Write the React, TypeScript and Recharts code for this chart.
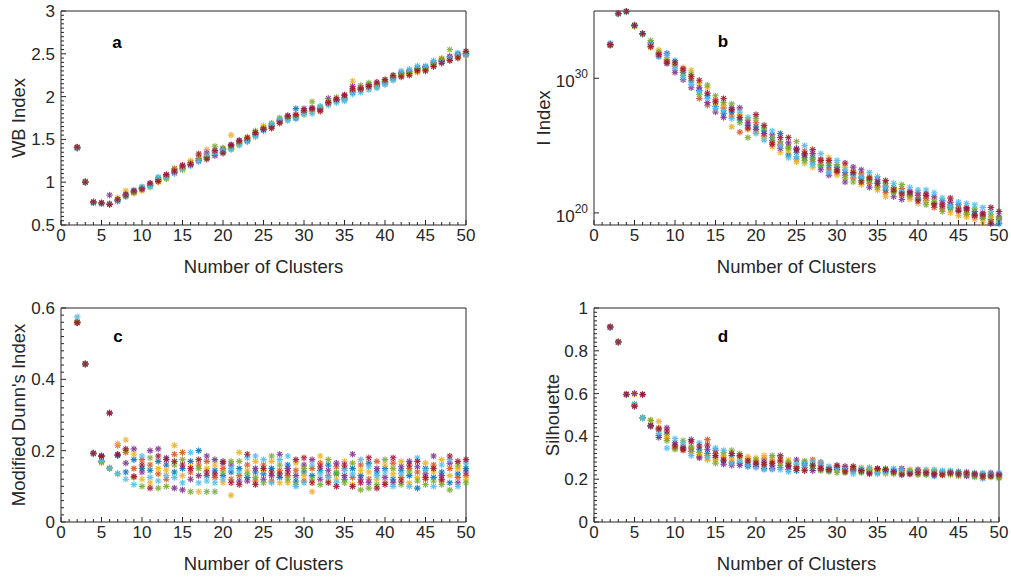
import { Scatter, ScatterChart, XAxis, YAxis } from 'recharts';

const clusters = [
  2, 3, 4, 5, 6, 7, 8, 9, 10, 11, 12, 13, 14, 15, 16, 17, 18, 19, 20, 21, 22, 23, 24, 25, 26,
  27, 28, 29, 30, 31, 32, 33, 34, 35, 36, 37, 38, 39, 40, 41, 42, 43, 44, 45, 46, 47, 48, 49, 50,
];

// MATLAB default colour order: blue, orange, yellow, purple, green, cyan, red
const runColors = ['#0072BD', '#D95319', '#EDB120', '#7E2F8E', '#77AC30', '#4DBEEE', '#A2142F'];

// (a) WB index
const wbBlue = [
  1.40, 1.00, 0.76, 0.75, 0.75, 0.78, 0.84, 0.89, 0.93, 0.96,
  1.05, 1.06, 1.12, 1.16, 1.21, 1.26, 1.29, 1.33, 1.35, 1.40,
  1.45, 1.49, 1.55, 1.62, 1.65, 1.71, 1.74, 1.86, 1.81, 1.83,
  1.85, 1.92, 1.95, 1.97, 2.05, 2.08, 2.11, 2.12, 2.16, 2.21,
  2.25, 2.27, 2.33, 2.32, 2.37, 2.41, 2.44, 2.50, 2.49,
];
const wbOrange = [
  1.41, 1.01, 0.77, 0.76, 0.74, 0.79, 0.85, 0.88, 0.92, 0.97,
  1.02, 1.07, 1.16, 1.18, 1.23, 1.28, 1.30, 1.36, 1.38, 1.42,
  1.47, 1.51, 1.57, 1.64, 1.67, 1.73, 1.76, 1.78, 1.83, 1.85,
  1.87, 1.94, 1.97, 1.99, 2.07, 2.10, 2.13, 2.14, 2.18, 2.23,
  2.27, 2.29, 2.31, 2.34, 2.39, 2.43, 2.46, 2.48, 2.51,
];
const wbYellow = [
  1.40, 1.00, 0.76, 0.75, 0.75, 0.82, 0.90, 0.87, 0.90, 0.94,
  1.00, 1.05, 1.14, 1.14, 1.25, 1.31, 1.38, 1.35, 1.36, 1.55,
  1.44, 1.53, 1.54, 1.66, 1.64, 1.70, 1.73, 1.76, 1.80, 1.82,
  1.84, 1.91, 1.94, 1.96, 2.18, 2.07, 2.10, 2.11, 2.15, 2.20,
  2.24, 2.26, 2.28, 2.31, 2.36, 2.45, 2.43, 2.46, 2.48,
];
const wbPurple = [
  1.40, 1.00, 0.76, 0.75, 0.85, 0.79, 0.86, 0.89, 0.93, 0.98,
  1.03, 1.08, 1.11, 1.20, 1.20, 1.25, 1.34, 1.31, 1.39, 1.44,
  1.49, 1.48, 1.56, 1.61, 1.66, 1.72, 1.78, 1.75, 1.86, 1.87,
  1.86, 1.98, 1.96, 2.01, 2.12, 2.11, 2.14, 2.15, 2.17, 2.22,
  2.28, 2.30, 2.32, 2.35, 2.40, 2.42, 2.47, 2.49, 2.50,
];
const wbGreen = [
  1.40, 1.01, 0.76, 0.75, 0.74, 0.78, 0.83, 0.88, 0.94, 0.96,
  1.04, 1.04, 1.15, 1.17, 1.22, 1.27, 1.28, 1.42, 1.40, 1.39,
  1.46, 1.50, 1.60, 1.63, 1.69, 1.75, 1.75, 1.77, 1.82, 1.94,
  1.88, 1.95, 1.99, 1.98, 2.06, 2.13, 2.16, 2.13, 2.19, 2.24,
  2.26, 2.28, 2.34, 2.33, 2.38, 2.44, 2.55, 2.47, 2.52,
];
const wbCyan = [
  1.40, 1.00, 0.76, 0.75, 0.75, 0.79, 0.84, 0.91, 0.95, 0.95,
  1.06, 1.06, 1.10, 1.15, 1.19, 1.24, 1.31, 1.34, 1.37, 1.38,
  1.43, 1.47, 1.53, 1.60, 1.68, 1.74, 1.72, 1.74, 1.79, 1.80,
  1.89, 1.90, 1.93, 1.95, 2.03, 2.05, 2.08, 2.10, 2.14, 2.19,
  2.30, 2.32, 2.36, 2.36, 2.42, 2.40, 2.45, 2.51, 2.49,
];
const wbRed = [
  1.41, 1.00, 0.77, 0.76, 0.74, 0.80, 0.85, 0.90, 0.92, 0.99,
  1.01, 1.09, 1.13, 1.19, 1.21, 1.33, 1.27, 1.37, 1.34, 1.43,
  1.48, 1.52, 1.58, 1.62, 1.63, 1.69, 1.77, 1.79, 1.84, 1.86,
  1.83, 1.93, 1.97, 2.02, 2.09, 2.09, 2.12, 2.17, 2.20, 2.25,
  2.23, 2.25, 2.30, 2.30, 2.35, 2.39, 2.42, 2.45, 2.53,
];

// (b) I index, stored as powers of ten
const iBlue = [
  32.45, 34.80, 34.95, 33.90, 33.30, 32.55, 31.65, 31.85, 31.30, 30.45,
  29.80, 29.10, 28.70, 27.90, 27.40, 27.50, 26.90, 26.50, 26.40, 26.10,
  25.40, 25.90, 24.30, 24.50, 24.30, 24.10, 23.50, 23.50, 23.40, 23.00,
  22.90, 22.60, 22.50, 22.30, 21.70, 21.90, 21.50, 21.40, 21.10, 20.90,
  20.70, 20.50, 20.40, 20.10, 20.20, 19.90, 19.60, 19.50, 19.20,
];
const iOrange = [
  32.50, 34.82, 34.97, 33.95, 33.32, 32.40, 31.90, 31.40, 30.90, 30.60,
  30.00, 28.50, 28.00, 28.40, 27.80, 27.20, 26.00, 26.90, 26.70, 25.70,
  25.20, 25.10, 24.90, 24.00, 24.60, 23.80, 24.00, 23.20, 23.00, 22.80,
  22.60, 22.90, 22.20, 22.00, 21.50, 21.60, 21.80, 21.20, 21.30, 21.10,
  20.40, 20.30, 20.60, 20.30, 19.90, 19.70, 19.80, 19.30, 19.50,
];
const iYellow = [
  32.48, 34.78, 34.94, 33.85, 33.28, 32.30, 32.10, 31.55, 30.60, 30.80,
  30.60, 29.60, 29.30, 28.10, 28.00, 26.40, 27.30, 26.20, 26.00, 25.50,
  24.90, 24.50, 24.60, 23.80, 23.70, 23.40, 23.80, 24.10, 22.80, 23.40,
  23.10, 22.10, 22.70, 21.70, 21.20, 21.80, 21.30, 21.00, 20.70, 20.80,
  21.00, 20.70, 20.00, 19.80, 19.70, 19.50, 19.30, 19.70, 19.40,
];
const iPurple = [
  32.52, 34.80, 34.96, 33.92, 33.30, 32.65, 31.80, 31.10, 30.45, 29.90,
  29.30, 29.30, 28.20, 27.50, 27.10, 27.80, 27.80, 26.70, 26.20, 25.90,
  25.80, 24.80, 25.20, 24.80, 24.10, 24.40, 23.20, 22.80, 23.20, 22.30,
  23.40, 23.20, 21.90, 22.50, 22.00, 21.20, 21.00, 21.60, 21.50, 21.30,
  21.20, 20.90, 20.80, 20.60, 20.40, 20.10, 20.00, 19.20, 19.70,
];
const iGreen = [
  32.47, 34.81, 34.95, 33.88, 33.31, 32.80, 31.95, 31.30, 31.05, 30.20,
  30.30, 28.80, 29.50, 28.70, 28.20, 28.10, 26.70, 25.60, 27.00, 26.30,
  25.60, 25.30, 24.80, 25.30, 23.90, 24.00, 23.60, 23.70, 23.60, 22.60,
  22.30, 22.40, 22.40, 21.90, 22.20, 21.50, 22.10, 21.30, 21.00, 20.60,
  20.80, 20.10, 20.30, 20.40, 20.00, 20.30, 19.70, 19.90, 19.60,
];
const iCyan = [
  32.62, 34.79, 34.93, 33.97, 33.29, 32.50, 31.60, 31.70, 30.75, 30.05,
  29.55, 29.00, 28.50, 27.75, 27.60, 27.00, 27.50, 27.10, 25.90, 25.40,
  26.10, 25.00, 24.10, 24.20, 25.00, 23.60, 24.40, 23.00, 23.90, 23.20,
  22.80, 22.70, 23.00, 22.70, 21.90, 22.20, 21.60, 21.90, 21.70, 21.70,
  21.50, 21.10, 20.50, 20.80, 20.70, 20.60, 20.40, 20.10, 19.30,
];
const iRed = [
  32.50, 34.83, 34.98, 33.93, 33.33, 32.35, 31.75, 31.20, 31.15, 30.70,
  30.15, 29.85, 28.90, 28.25, 28.50, 27.65, 27.10, 26.30, 27.30, 26.50,
  25.10, 25.60, 25.60, 24.70, 24.40, 24.70, 23.90, 23.90, 23.10, 23.70,
  23.00, 22.30, 22.60, 22.20, 22.40, 21.70, 21.40, 21.50, 20.90, 21.40,
  20.60, 20.60, 21.10, 20.20, 20.30, 19.80, 19.90, 20.40, 20.10,
];

// (c) modified Dunn's index
const dunnBlue = [
  0.560, 0.443, 0.192, 0.170, 0.150, 0.186, 0.140, 0.175, 0.150, 0.145,
  0.170, 0.160, 0.140, 0.150, 0.170, 0.200, 0.130, 0.145, 0.130, 0.140,
  0.150, 0.125, 0.140, 0.135, 0.150, 0.125, 0.160, 0.115, 0.140, 0.130,
  0.145, 0.160, 0.135, 0.120, 0.150, 0.130, 0.165, 0.140, 0.150, 0.120,
  0.145, 0.130, 0.095, 0.150, 0.125, 0.140, 0.110, 0.135, 0.150,
];
const dunnOrange = [
  0.558, 0.445, 0.193, 0.185, 0.152, 0.215, 0.195, 0.150, 0.175, 0.160,
  0.135, 0.120, 0.190, 0.195, 0.140, 0.160, 0.170, 0.125, 0.150, 0.120,
  0.130, 0.160, 0.115, 0.160, 0.115, 0.145, 0.130, 0.145, 0.115, 0.150,
  0.165, 0.130, 0.155, 0.150, 0.125, 0.160, 0.120, 0.170, 0.110, 0.165,
  0.125, 0.150, 0.140, 0.120, 0.160, 0.115, 0.150, 0.125, 0.130,
];
const dunnYellow = [
  0.562, 0.444, 0.191, 0.166, 0.151, 0.220, 0.230, 0.190, 0.120, 0.110,
  0.150, 0.145, 0.215, 0.130, 0.155, 0.085, 0.150, 0.160, 0.110, 0.075,
  0.195, 0.145, 0.170, 0.145, 0.170, 0.110, 0.110, 0.165, 0.130, 0.085,
  0.185, 0.115, 0.120, 0.170, 0.105, 0.145, 0.140, 0.120, 0.160, 0.135,
  0.170, 0.110, 0.125, 0.165, 0.140, 0.175, 0.130, 0.150, 0.120,
];
const dunnPurple = [
  0.560, 0.443, 0.192, 0.186, 0.305, 0.188, 0.165, 0.205, 0.140, 0.200,
  0.205, 0.180, 0.095, 0.090, 0.120, 0.130, 0.185, 0.175, 0.165, 0.160,
  0.115, 0.115, 0.150, 0.120, 0.130, 0.190, 0.150, 0.130, 0.160, 0.175,
  0.120, 0.145, 0.165, 0.130, 0.190, 0.120, 0.110, 0.150, 0.125, 0.110,
  0.155, 0.170, 0.155, 0.135, 0.185, 0.130, 0.165, 0.110, 0.140,
];
const dunnGreen = [
  0.561, 0.442, 0.192, 0.168, 0.150, 0.135, 0.200, 0.125, 0.100, 0.180,
  0.095, 0.100, 0.160, 0.175, 0.085, 0.150, 0.085, 0.085, 0.140, 0.170,
  0.170, 0.135, 0.125, 0.110, 0.185, 0.160, 0.120, 0.105, 0.150, 0.120,
  0.105, 0.175, 0.140, 0.110, 0.165, 0.090, 0.095, 0.105, 0.175, 0.150,
  0.105, 0.140, 0.115, 0.105, 0.115, 0.105, 0.090, 0.160, 0.110,
];
const dunnCyan = [
  0.575, 0.444, 0.191, 0.172, 0.151, 0.136, 0.120, 0.105, 0.185, 0.125,
  0.115, 0.130, 0.125, 0.110, 0.195, 0.110, 0.115, 0.110, 0.120, 0.150,
  0.140, 0.180, 0.185, 0.175, 0.110, 0.175, 0.185, 0.100, 0.110, 0.160,
  0.135, 0.125, 0.110, 0.145, 0.135, 0.175, 0.155, 0.130, 0.140, 0.100,
  0.135, 0.100, 0.180, 0.145, 0.100, 0.160, 0.175, 0.100, 0.165,
];
const dunnRed = [
  0.559, 0.443, 0.193, 0.184, 0.306, 0.190, 0.205, 0.128, 0.160, 0.095,
  0.185, 0.175, 0.170, 0.160, 0.150, 0.175, 0.140, 0.135, 0.170, 0.110,
  0.105, 0.190, 0.105, 0.150, 0.140, 0.135, 0.140, 0.175, 0.180, 0.110,
  0.155, 0.110, 0.100, 0.160, 0.100, 0.110, 0.180, 0.095, 0.105, 0.180,
  0.115, 0.160, 0.170, 0.125, 0.150, 0.120, 0.185, 0.170, 0.175,
];

// (d) silhouette
const silBlue = [
  0.910, 0.842, 0.596, 0.545, 0.486, 0.450, 0.405, 0.410, 0.360, 0.345,
  0.330, 0.340, 0.320, 0.300, 0.285, 0.310, 0.275, 0.260, 0.270, 0.250,
  0.265, 0.255, 0.245, 0.240, 0.255, 0.250, 0.245, 0.240, 0.245, 0.250,
  0.240, 0.235, 0.245, 0.230, 0.235, 0.240, 0.225, 0.235, 0.230, 0.225,
  0.215, 0.230, 0.225, 0.220, 0.225, 0.215, 0.205, 0.220, 0.210,
];
const silOrange = [
  0.912, 0.840, 0.597, 0.600, 0.488, 0.447, 0.440, 0.390, 0.345, 0.335,
  0.345, 0.305, 0.385, 0.320, 0.300, 0.280, 0.305, 0.295, 0.285, 0.295,
  0.285, 0.280, 0.275, 0.260, 0.265, 0.290, 0.280, 0.250, 0.260, 0.240,
  0.250, 0.245, 0.235, 0.250, 0.245, 0.230, 0.240, 0.225, 0.240, 0.235,
  0.230, 0.220, 0.235, 0.230, 0.220, 0.225, 0.220, 0.215, 0.220,
];
const silYellow = [
  0.909, 0.843, 0.595, 0.598, 0.485, 0.476, 0.470, 0.400, 0.350, 0.360,
  0.320, 0.315, 0.290, 0.290, 0.310, 0.295, 0.290, 0.305, 0.300, 0.310,
  0.300, 0.305, 0.290, 0.275, 0.245, 0.270, 0.255, 0.255, 0.240, 0.255,
  0.235, 0.255, 0.250, 0.240, 0.225, 0.245, 0.235, 0.245, 0.225, 0.240,
  0.235, 0.225, 0.220, 0.225, 0.230, 0.230, 0.215, 0.225, 0.215,
];
const silPurple = [
  0.911, 0.841, 0.596, 0.601, 0.597, 0.452, 0.395, 0.440, 0.370, 0.350,
  0.385, 0.300, 0.340, 0.335, 0.270, 0.265, 0.265, 0.270, 0.260, 0.280,
  0.250, 0.310, 0.260, 0.290, 0.275, 0.240, 0.265, 0.245, 0.255, 0.260,
  0.245, 0.240, 0.230, 0.245, 0.240, 0.235, 0.250, 0.230, 0.245, 0.230,
  0.225, 0.235, 0.230, 0.235, 0.215, 0.220, 0.225, 0.230, 0.225,
];
const silGreen = [
  0.910, 0.842, 0.594, 0.552, 0.487, 0.475, 0.430, 0.380, 0.340, 0.380,
  0.350, 0.325, 0.310, 0.275, 0.325, 0.335, 0.320, 0.280, 0.290, 0.265,
  0.310, 0.265, 0.280, 0.255, 0.285, 0.260, 0.240, 0.235, 0.230, 0.230,
  0.255, 0.230, 0.240, 0.235, 0.250, 0.225, 0.230, 0.240, 0.220, 0.220,
  0.240, 0.230, 0.225, 0.215, 0.225, 0.210, 0.220, 0.210, 0.205,
];
const silCyan = [
  0.908, 0.840, 0.596, 0.548, 0.486, 0.446, 0.415, 0.345, 0.390, 0.370,
  0.310, 0.370, 0.300, 0.345, 0.335, 0.275, 0.285, 0.265, 0.255, 0.245,
  0.245, 0.245, 0.235, 0.270, 0.270, 0.280, 0.275, 0.260, 0.250, 0.245,
  0.225, 0.250, 0.255, 0.225, 0.230, 0.250, 0.245, 0.235, 0.235, 0.245,
  0.245, 0.240, 0.240, 0.230, 0.235, 0.230, 0.230, 0.220, 0.230,
];
const silRed = [
  0.912, 0.841, 0.597, 0.540, 0.595, 0.449, 0.435, 0.425, 0.355, 0.340,
  0.375, 0.355, 0.360, 0.310, 0.290, 0.320, 0.310, 0.285, 0.275, 0.270,
  0.275, 0.290, 0.265, 0.250, 0.240, 0.265, 0.250, 0.245, 0.265, 0.235,
  0.260, 0.240, 0.225, 0.250, 0.245, 0.235, 0.220, 0.225, 0.230, 0.230,
  0.225, 0.220, 0.230, 0.225, 0.230, 0.225, 0.215, 0.215, 0.220,
];

// ticks
const xTicks = [
  0, 1, 2, 3, 4, 5, 6, 7, 8, 9, 10, 11, 12, 13, 14, 15, 16, 17, 18, 19, 20, 21, 22, 23, 24, 25,
  26, 27, 28, 29, 30, 31, 32, 33, 34, 35, 36, 37, 38, 39, 40, 41, 42, 43, 44, 45, 46, 47, 48, 49, 50,
];
const xMajors = [0, 5, 10, 15, 20, 25, 30, 35, 40, 45, 50];

const wbTicks = [
  0.5, 0.55, 0.6, 0.65, 0.7, 0.75, 0.8, 0.85, 0.9, 0.95, 1, 1.05, 1.1, 1.15, 1.2, 1.25, 1.3,
  1.35, 1.4, 1.45, 1.5, 1.55, 1.6, 1.65, 1.7, 1.75, 1.8, 1.85, 1.9, 1.95, 2, 2.05, 2.1, 2.15,
  2.2, 2.25, 2.3, 2.35, 2.4, 2.45, 2.5, 2.55, 2.6, 2.65, 2.7, 2.75, 2.8, 2.85, 2.9, 2.95, 3,
];
const wbMajors = [0.5, 1, 1.5, 2, 2.5, 3];

const iTicks = [20, 30];
const iMajors = [20, 30];

const dunnTicks = [
  0, 0.02, 0.04, 0.06, 0.08, 0.1, 0.12, 0.14, 0.16, 0.18, 0.2, 0.22, 0.24, 0.26, 0.28, 0.3,
  0.32, 0.34, 0.36, 0.38, 0.4, 0.42, 0.44, 0.46, 0.48, 0.5, 0.52, 0.54, 0.56, 0.58, 0.6,
];
const dunnMajors = [0, 0.2, 0.4, 0.6];

const silTicks = [
  0, 0.02, 0.04, 0.06, 0.08, 0.1, 0.12, 0.14, 0.16, 0.18, 0.2, 0.22, 0.24, 0.26, 0.28, 0.3,
  0.32, 0.34, 0.36, 0.38, 0.4, 0.42, 0.44, 0.46, 0.48, 0.5, 0.52, 0.54, 0.56, 0.58, 0.6,
  0.62, 0.64, 0.66, 0.68, 0.7, 0.72, 0.74, 0.76, 0.78, 0.8, 0.82, 0.84, 0.86, 0.88, 0.9,
  0.92, 0.94, 0.96, 0.98, 1,
];
const silMajors = [0, 0.2, 0.4, 0.6, 0.8, 1];

const ink = '#262626';
const font = '"Liberation Sans", Arial, Helvetica, sans-serif';
const W = 500;
const H = 281;

const toPoints = (vals: number[]) => vals.map((v, i) => ({ k: clusters[i], v }));

function Asterisk({ cx, cy, color }: { cx?: number; cy?: number; color: string }) {
  if (cx == null || cy == null) return null;
  const r = 2.8;
  const d = 2;
  return (
    <g stroke={color} strokeWidth={1.1} strokeLinecap="round" opacity={0.9}>
      <line x1={cx - r} y1={cy} x2={cx + r} y2={cy} />
      <line x1={cx} y1={cy - r} x2={cx} y2={cy + r} />
      <line x1={cx - d} y1={cy - d} x2={cx + d} y2={cy + d} />
      <line x1={cx - d} y1={cy + d} x2={cx + d} y2={cy - d} />
    </g>
  );
}

type Side = 'bottom' | 'top' | 'left' | 'right';

function Tick(props: any) {
  const { x, y, payload, side, majors, label, power } = props as {
    x: number; y: number; payload: { value: number }; side: Side; majors: number[]; label: boolean; power?: boolean;
  };
  const v = payload.value;
  const major = majors.includes(v);
  const len = major ? 5 : 3;
  let line;
  if (side === 'bottom') line = <line x1={x} x2={x} y1={y} y2={y - len} />;
  else if (side === 'top') line = <line x1={x} x2={x} y1={y} y2={y + len} />;
  else if (side === 'left') line = <line x1={x} x2={x + len} y1={y} y2={y} />;
  else line = <line x1={x} x2={x - len} y1={y} y2={y} />;
  let text = null;
  if (label && major) {
    if (side === 'bottom') {
      text = <text x={x} y={y + 16} textAnchor="middle" fontSize={17} fill={ink} stroke="none" fontFamily={font}>{v}</text>;
    } else if (power) {
      text = (
        <text x={x - 6} y={y + 9} textAnchor="end" fontSize={17} fill={ink} stroke="none" fontFamily={font}>
          <tspan>10</tspan>
          <tspan dy={-9} fontSize={12}>{v}</tspan>
        </text>
      );
    } else {
      text = <text x={x - 6} y={y + 6} textAnchor="end" fontSize={17} fill={ink} stroke="none" fontFamily={font}>{v}</text>;
    }
  }
  return (
    <g stroke={ink} strokeWidth={1}>
      {line}
      {text}
    </g>
  );
}

function Panel({ left, top, runs, yDomain, yTicks, yMajors, yLabel, yLabelOffset, power, letter, letterX, letterY }: {
  left: number; top: number; runs: number[][]; yDomain: [number, number]; yTicks: number[]; yMajors: number[];
  yLabel: string; yLabelOffset: number; power?: boolean; letter: string; letterX: number; letterY: number;
}) {
  return (
    <div style={{ position: 'absolute', left, top, width: W, height: H }}>
      <ScatterChart width={W} height={H} margin={{ top: 10, right: 33, bottom: 0, left: 0 }}>
        <XAxis
          xAxisId="b"
          dataKey="k"
          type="number"
          domain={[0, 50]}
          ticks={xTicks}
          interval={0}
          height={56}
          tickSize={0}
          tickMargin={0}
          tickLine={false}
          axisLine={{ stroke: ink, strokeWidth: 1 }}
          tick={(p: any) => <Tick {...p} side="bottom" majors={xMajors} label />}
          label={{ value: 'Number of Clusters', position: 'insideBottom', offset: 8, fill: ink, fontSize: 18.5, fontFamily: font }}
        />
        <XAxis
          xAxisId="t"
          orientation="top"
          dataKey="k"
          type="number"
          domain={[0, 50]}
          ticks={xTicks}
          interval={0}
          height={1}
          tickSize={0}
          tickMargin={0}
          tickLine={false}
          axisLine={{ stroke: ink, strokeWidth: 1 }}
          tick={(p: any) => <Tick {...p} side="top" majors={xMajors} label={false} />}
        />
        <YAxis
          yAxisId="l"
          dataKey="v"
          type="number"
          domain={yDomain}
          ticks={yTicks}
          interval={0}
          width={61}
          tickSize={0}
          tickMargin={0}
          tickLine={false}
          axisLine={{ stroke: ink, strokeWidth: 1 }}
          tick={(p: any) => <Tick {...p} side="left" majors={yMajors} label power={power} />}
          label={{
            value: yLabel,
            angle: -90,
            position: 'insideLeft',
            offset: yLabelOffset,
            fill: ink,
            fontSize: 18.5,
            fontFamily: font,
            style: { textAnchor: 'middle' },
          }}
        />
        <YAxis
          yAxisId="r"
          orientation="right"
          dataKey="v"
          type="number"
          domain={yDomain}
          ticks={yTicks}
          interval={0}
          width={1}
          tickSize={0}
          tickMargin={0}
          tickLine={false}
          axisLine={{ stroke: ink, strokeWidth: 1 }}
          tick={(p: any) => <Tick {...p} side="right" majors={yMajors} label={false} />}
        />
        {runs.map((vals, i) => (
          <Scatter
            key={i}
            xAxisId="b"
            yAxisId="l"
            data={toPoints(vals)}
            isAnimationActive={false}
            shape={(p: any) => <Asterisk cx={p.cx} cy={p.cy} color={runColors[i]} />}
          />
        ))}
      </ScatterChart>
      <div
        style={{
          position: 'absolute',
          left: letterX,
          top: letterY,
          transform: 'translate(-50%, -50%)',
          fontFamily: font,
          fontWeight: 'bold',
          fontSize: 17,
          color: '#000',
        }}
      >
        {letter}
      </div>
    </div>
  );
}

export default function App() {
  return (
    <div style={{ position: 'relative', width: 1011, height: 578, background: '#fff', overflow: 'hidden' }}>
      <style>{'body{margin:0}'}</style>
      <Panel
        left={0}
        top={0}
        runs={[wbBlue, wbOrange, wbYellow, wbPurple, wbGreen, wbCyan, wbRed]}
        yDomain={[0.5, 3]}
        yTicks={wbTicks}
        yMajors={wbMajors}
        yLabel="WB Index"
        yLabelOffset={18}
        letter="a"
        letterX={117}
        letterY={43}
      />
      <Panel
        left={533}
        top={0}
        runs={[iBlue, iOrange, iYellow, iPurple, iGreen, iCyan, iRed]}
        yDomain={[19.1, 35]}
        yTicks={iTicks}
        yMajors={iMajors}
        yLabel="I Index"
        yLabelOffset={10}
        power
        letter="b"
        letterX={190}
        letterY={42}
      />
      <Panel
        left={0}
        top={297}
        runs={[dunnBlue, dunnOrange, dunnYellow, dunnPurple, dunnGreen, dunnCyan, dunnRed]}
        yDomain={[0, 0.6]}
        yTicks={dunnTicks}
        yMajors={dunnMajors}
        yLabel="Modified Dunn's Index"
        yLabelOffset={18}
        letter="c"
        letterX={118}
        letterY={40}
      />
      <Panel
        left={533}
        top={297}
        runs={[silBlue, silOrange, silYellow, silPurple, silGreen, silCyan, silRed]}
        yDomain={[0, 1]}
        yTicks={silTicks}
        yMajors={silMajors}
        yLabel="Silhouette"
        yLabelOffset={19}
        letter="d"
        letterX={190}
        letterY={40}
      />
    </div>
  );
}
